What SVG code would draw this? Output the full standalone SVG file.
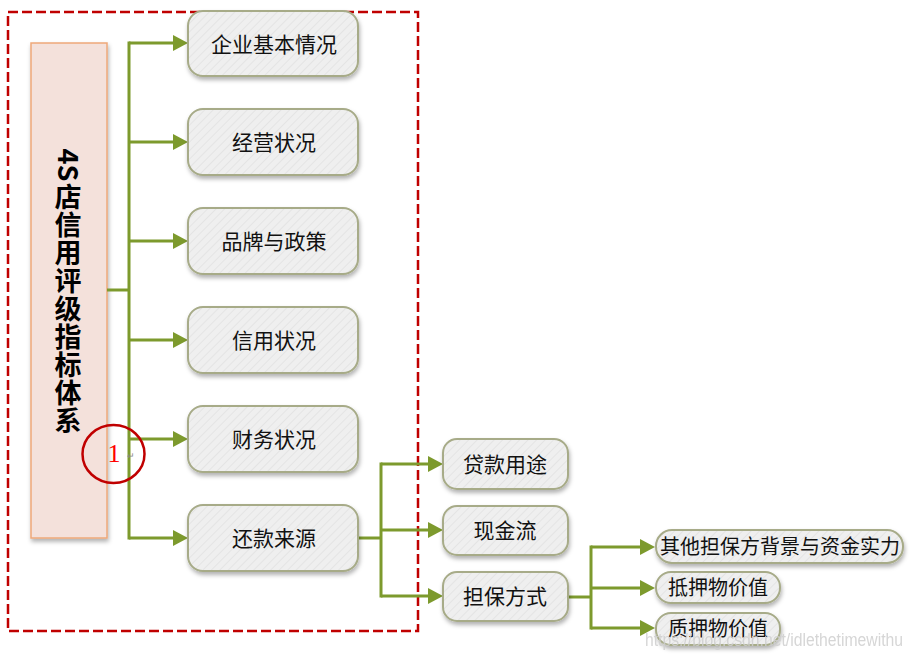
<svg xmlns="http://www.w3.org/2000/svg" width="913" height="660" viewBox="0 0 913 660">
<style>
.box{fill:url(#hatch);stroke:#a7ab88;stroke-width:2;filter:url(#sh)}
.lbl{font-family:"Noto Sans CJK SC","Liberation Sans",sans-serif;font-size:21px;fill:#111;text-anchor:middle}
.lbl3{font-family:"Noto Sans CJK SC","Liberation Sans",sans-serif;font-size:20px;fill:#111;text-anchor:middle}
.title{font-family:"Noto Sans CJK SC","Liberation Sans",sans-serif;font-size:27px;font-weight:bold;fill:#000;text-anchor:middle}
.con{fill:none;stroke:#7d9a2d;stroke-width:3}
.arr{fill:none;stroke:#7d9a2d;stroke-width:3;marker-end:url(#ah)}
</style>
<defs>
<pattern id="hatch" patternUnits="userSpaceOnUse" width="6" height="6" patternTransform="rotate(45)">
<rect width="6" height="6" fill="#efefef"/>
<line x1="0" y1="0" x2="0" y2="6" stroke="#e4e4e4" stroke-width="2"/>
</pattern>
<filter id="sh" x="-10%" y="-20%" width="120%" height="150%">
<feDropShadow dx="1" dy="3" stdDeviation="2" flood-color="#000" flood-opacity="0.3"/>
</filter>
<marker id="ah" markerUnits="userSpaceOnUse" markerWidth="16" markerHeight="16" refX="0" refY="8" orient="auto">
<path d="M0,0 L15,8 L0,16 Z" fill="#7d9a2d"/>
</marker>
</defs>
<rect width="913" height="660" fill="#fff"/>

<g id="frame">
<rect x="8" y="12" width="410" height="619" fill="none" stroke="#c00000" stroke-width="2.5" stroke-dasharray="10 4"/>
</g>

<g id="root">
<rect x="31" y="43" width="76" height="495" fill="#f4e1db" stroke="#eea87a" stroke-width="1.5" filter="url(#sh)"/>
<text class="title" transform="translate(68,165) rotate(90)" y="10">4S</text>
<text class="title" x="68" y="207">店</text>
<text class="title" x="68" y="235">信</text>
<text class="title" x="68" y="263">用</text>
<text class="title" x="68" y="291">评</text>
<text class="title" x="68" y="319">级</text>
<text class="title" x="68" y="347">指</text>
<text class="title" x="68" y="375">标</text>
<text class="title" x="68" y="403">体</text>
<text class="title" x="68" y="431">系</text>
</g>

<g id="connectors">
<path class="con" d="M107,290 H129"/>
<path class="con" d="M129,43 V538" stroke-linecap="square"/>
<path class="arr" d="M129,43 H173"/>
<path class="arr" d="M129,142 H173"/>
<path class="arr" d="M129,241 H173"/>
<path class="arr" d="M129,340 H173"/>
<path class="arr" d="M129,439 H173"/>
<path class="arr" d="M129,538 H173"/>
<path class="con" d="M358,538 H381"/>
<path class="con" d="M381,464 V596" stroke-linecap="square"/>
<path class="arr" d="M381,464 H428"/>
<path class="arr" d="M381,530 H428"/>
<path class="arr" d="M381,596 H428"/>
<path class="con" d="M568,597 H591"/>
<path class="con" d="M591,547 V628" stroke-linecap="square"/>
<path class="arr" d="M591,547 H640"/>
<path class="arr" d="M591,588 H640"/>
<path class="arr" d="M591,628 H640"/>
</g>

<g id="n1"><rect class="box" x="188" y="11" width="170" height="65" rx="15"/><text class="lbl" x="274" y="52">企业基本情况</text></g>
<g id="n2"><rect class="box" x="188" y="109" width="170" height="66" rx="15"/><text class="lbl" x="274" y="150">经营状况</text></g>
<g id="n3"><rect class="box" x="188" y="208" width="170" height="66" rx="15"/><text class="lbl" x="274" y="249">品牌与政策</text></g>
<g id="n4"><rect class="box" x="188" y="307" width="170" height="66" rx="15"/><text class="lbl" x="274" y="348">信用状况</text></g>
<g id="n5"><rect class="box" x="188" y="406" width="170" height="66" rx="15"/><text class="lbl" x="274" y="447">财务状况</text></g>
<g id="n6"><rect class="box" x="188" y="505" width="170" height="66" rx="15"/><text class="lbl" x="274" y="546">还款来源</text></g>

<g id="n7"><rect class="box" x="443" y="439" width="125" height="50" rx="14"/><text class="lbl" x="505" y="472">贷款用途</text></g>
<g id="n8"><rect class="box" x="443" y="506" width="125" height="49" rx="14"/><text class="lbl" x="505" y="538">现金流</text></g>
<g id="n9"><rect class="box" x="443" y="572" width="125" height="49" rx="14"/><text class="lbl" x="505" y="604">担保方式</text></g>

<g id="n10"><rect class="box" x="656" y="530" width="247" height="33" rx="16"/><text class="lbl3" x="780" y="554">其他担保方背景与资金实力</text></g>
<g id="n11"><rect class="box" x="656" y="572" width="124" height="31" rx="15"/><text class="lbl3" x="718" y="595">抵押物价值</text></g>
<g id="n12"><rect class="box" x="656" y="613" width="124" height="32" rx="15"/><text class="lbl3" x="718" y="636">质押物价值</text></g>

<g id="annotation">
<ellipse cx="113.5" cy="454" rx="31" ry="29" fill="none" stroke="#c00000" stroke-width="2.5"/>
<text x="114" y="462" font-family="Liberation Serif,serif" font-size="26" fill="#ff0000" text-anchor="middle">1</text>
<text x="127" y="459" font-family="Liberation Sans,sans-serif" font-size="9" fill="#888">↵</text>
</g>

<text x="645" y="646" font-family="Liberation Sans,sans-serif" font-size="18" fill="#cfcfcf" textLength="258" lengthAdjust="spacingAndGlyphs" opacity="0.85">https://blog.csdn.net/idlethetimewithu</text>
</svg>
